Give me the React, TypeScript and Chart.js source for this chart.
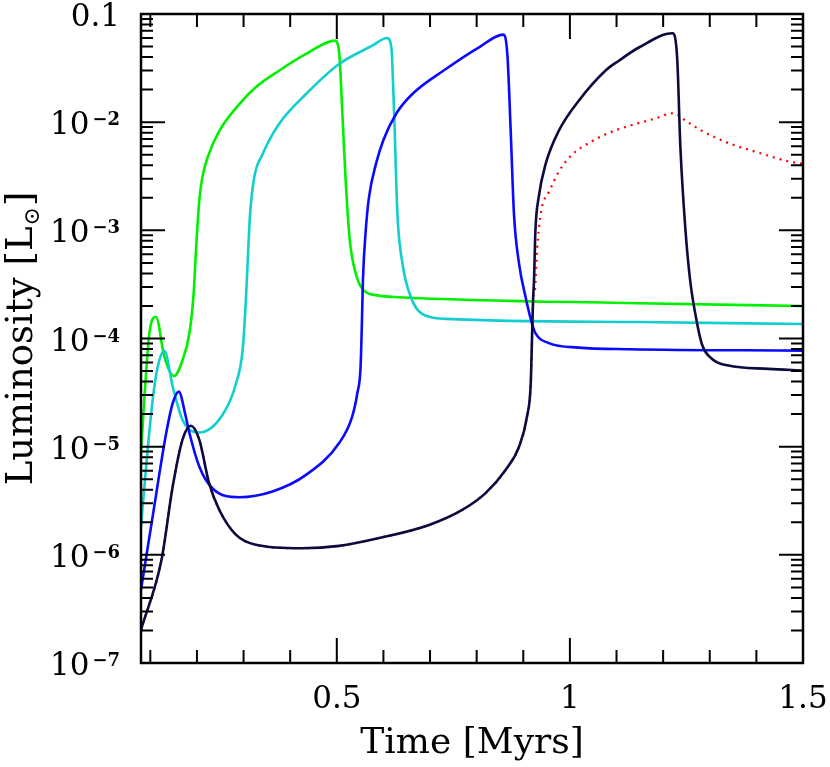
import React, { useEffect, useRef } from 'react';
import { Chart, registerables } from 'chart.js';

Chart.register(...registerables);

const FONT = '"DejaVu Serif", "DejaVu Sans", serif';

// Time [Myrs] and Luminosity [Lsun] for each track
const greenTime = [0.080, 0.087, 0.098, 0.112, 0.130, 0.151, 0.169, 0.184, 0.193, 0.198, 0.205, 0.211, 0.223, 0.248, 0.291, 0.326, 0.376, 0.434, 0.496, 0.505, 0.512, 0.519, 0.528, 0.541, 0.555, 0.591, 0.633, 1.148, 1.500];
const greenLum = [8.7e-6, 2.7e-5, 1.12e-4, 1.59e-4, 6.8e-5, 4.5e-5, 6.3e-5, 1.13e-4, 2.64e-4, 6.6e-4, 1.88e-3, 2.99e-3, 4.74e-3, 8.3e-3, 0.0147, 0.0210, 0.0299, 0.0427, 0.0567, 0.0443, 0.0119, 2.88e-3, 8.0e-4, 3.95e-4, 2.87e-4, 2.49e-4, 2.41e-4, 2.12e-4, 2.0e-4];

const cyanTime = [0.080, 0.091, 0.105, 0.116, 0.130, 0.148, 0.169, 0.205, 0.255, 0.284, 0.298, 0.305, 0.310, 0.314, 0.323, 0.341, 0.376, 0.434, 0.505, 0.576, 0.608, 0.617, 0.623, 0.630, 0.641, 0.659, 0.683, 0.734, 1.148, 1.500];
const cyanLum = [1.83e-6, 6.55e-6, 2.71e-5, 5.5e-5, 7.7e-5, 3.6e-5, 1.77e-5, 1.35e-5, 1.97e-5, 3.86e-5, 7.85e-5, 2.27e-4, 6.6e-4, 1.42e-3, 3.1e-3, 5.08e-3, 9.6e-3, 0.0182, 0.0345, 0.0509, 0.060, 0.0492, 0.0119, 1.42e-3, 4.89e-4, 2.41e-4, 1.69e-4, 1.52e-4, 1.42e-4, 1.36e-4];

const blueTime = [0.080, 0.105, 0.134, 0.148, 0.161, 0.176, 0.184, 0.205, 0.233, 0.291, 0.362, 0.434, 0.505, 0.533, 0.544, 0.551, 0.554, 0.556, 0.562, 0.569, 0.584, 0.600, 0.627, 0.662, 0.734, 0.805, 0.857, 0.866, 0.873, 0.880, 0.891, 0.905, 0.919, 0.926, 0.955, 1.019, 1.126, 1.500];
const blueLum = [4.75e-7, 2.26e-6, 1.33e-5, 2.52e-5, 3.23e-5, 1.9e-5, 1.33e-5, 6.55e-6, 4.13e-6, 3.41e-6, 3.85e-6, 5.48e-6, 1.08e-5, 1.9e-5, 3.12e-5, 5.5e-5, 1.5e-4, 3.43e-4, 9.9e-4, 2.02e-3, 4.11e-3, 6.84e-3, 0.0119, 0.0182, 0.031, 0.0492, 0.0644, 0.0412, 8.3e-3, 1.42e-3, 4.89e-4, 2.41e-4, 1.36e-4, 1.12e-4, 9.06e-5, 8.24e-5, 7.96e-5, 7.73e-5];

const navyTime = [0.080, 0.124, 0.148, 0.169, 0.187, 0.205, 0.226, 0.248, 0.284, 0.326, 0.426, 0.505, 0.591, 0.698, 0.769, 0.819, 0.862, 0.891, 0.908, 0.916, 0.919, 0.921, 0.923, 0.926, 0.933, 0.948, 0.976, 1.019, 1.076, 1.105, 1.148, 1.220, 1.230, 1.237, 1.248, 1.258, 1.269, 1.283, 1.305, 1.340, 1.426, 1.500];
const navyLum = [2.03e-7, 9.0e-7, 4.28e-6, 1.16e-5, 1.56e-5, 1.16e-5, 4.6e-6, 2.6e-6, 1.53e-6, 1.24e-6, 1.15e-6, 1.21e-6, 1.43e-6, 1.89e-6, 2.6e-6, 3.72e-6, 6.1e-6, 1.0e-5, 1.9e-5, 3.86e-5, 1.12e-4, 2.27e-4, 3.43e-4, 9.9e-4, 2.02e-3, 4.11e-3, 8.3e-3, 0.0158, 0.0299, 0.037, 0.049, 0.0664, 0.0398, 5.86e-3, 9.9e-4, 3.43e-4, 1.69e-4, 8.9e-5, 6.47e-5, 5.62e-5, 5.24e-5, 5.05e-5];

const redTime = [0.080, 0.124, 0.148, 0.169, 0.187, 0.205, 0.226, 0.248, 0.284, 0.326, 0.426, 0.505, 0.591, 0.698, 0.769, 0.819, 0.862, 0.891, 0.908, 0.916, 0.919, 0.921, 0.925, 0.930, 0.933, 0.940, 0.955, 0.976, 1.004, 1.041, 1.083, 1.133, 1.180, 1.223, 1.248, 1.283, 1.319, 1.355, 1.390, 1.426, 1.462, 1.500];
const redLum = [2.03e-7, 9.0e-7, 4.28e-6, 1.16e-5, 1.56e-5, 1.16e-5, 4.6e-6, 2.6e-6, 1.53e-6, 1.24e-6, 1.15e-6, 1.21e-6, 1.43e-6, 1.89e-6, 2.6e-6, 3.72e-6, 6.1e-6, 1.0e-5, 1.9e-5, 3.86e-5, 1.12e-4, 2.27e-4, 2.77e-4, 6.98e-4, 9.9e-4, 1.64e-3, 2.26e-3, 3.47e-3, 4.98e-3, 6.43e-3, 7.94e-3, 9.42e-3, 0.0107, 0.0121, 0.01033, 8.33e-3, 7.0e-3, 6.07e-3, 5.46e-3, 4.9e-3, 4.41e-3, 4.11e-3];

// Axis ticks
const xTickValues = [0.1, 0.2, 0.3, 0.4, 0.5, 0.6, 0.7, 0.8, 0.9, 1.0, 1.1, 1.2, 1.3, 1.4, 1.5];
const xMajorValues = [0.5, 1.0, 1.5];
const xLabelValues = [0.5, 1, 1.5];
const yDecadeValues = [1e-7, 1e-6, 1e-5, 1e-4, 1e-3, 1e-2, 1e-1];
const yLabelBase = ['10', '10', '10', '10', '10', '10', '0.1'];
const yLabelSup = ['\u22127', '\u22126', '\u22125', '\u22124', '\u22123', '\u22122', ''];
const yMinorFactors = [2, 3, 4, 5, 6, 7, 8, 9];

const zip = (t: number[], l: number[]) => t.map((x, i) => ({ x, y: l[i] }));

export default function App() {
  const ref = useRef<HTMLCanvasElement | null>(null);

  useEffect(() => {
    const framePlugin = {
      id: 'frameTicks',
      afterDatasetsDraw(chart: any) {
        const { ctx, chartArea: a, scales } = chart;
        const xs = scales.x;
        const ys = scales.y;
        ctx.save();
        ctx.strokeStyle = '#000';
        ctx.lineWidth = 2;
        ctx.lineCap = 'butt';
        ctx.beginPath();
        for (const v of xTickValues) {
          const px = xs.getPixelForValue(v);
          const len = xMajorValues.some((m) => Math.abs(m - v) < 1e-9) ? 25 : 13;
          ctx.moveTo(px, a.bottom);
          ctx.lineTo(px, a.bottom - len);
          ctx.moveTo(px, a.top);
          ctx.lineTo(px, a.top + len);
        }
        yDecadeValues.forEach((d) => {
          const py = ys.getPixelForValue(d);
          ctx.moveTo(a.left, py);
          ctx.lineTo(a.left + 24, py);
          ctx.moveTo(a.right, py);
          ctx.lineTo(a.right - 24, py);
          if (d < 0.1) {
            for (const k of yMinorFactors) {
              const pm = ys.getPixelForValue(d * k);
              ctx.moveTo(a.left, pm);
              ctx.lineTo(a.left + 12, pm);
              ctx.moveTo(a.right, pm);
              ctx.lineTo(a.right - 12, pm);
            }
          }
        });
        ctx.stroke();
        ctx.lineWidth = 2.5;
        ctx.strokeRect(a.left, a.top, a.right - a.left, a.bottom - a.top);

        // y tick labels with superscripts
        ctx.fillStyle = '#000';
        ctx.textBaseline = 'alphabetic';
        ctx.textAlign = 'left';
        const rightEdge = a.left - 21;
        yDecadeValues.forEach((d, i) => {
          const py = ys.getPixelForValue(d);
          const baseFont = `31px ${FONT}`;
          const supFont = `bold 18px ${FONT}`;
          ctx.font = baseFont;
          const wb = ctx.measureText(yLabelBase[i]).width;
          ctx.font = supFont;
          const ws = yLabelSup[i] ? ctx.measureText(yLabelSup[i]).width + 3 : 0;
          const x0 = rightEdge - wb - ws;
          ctx.font = baseFont;
          ctx.fillText(yLabelBase[i], x0, py + 12);
          if (yLabelSup[i]) {
            ctx.font = supFont;
            ctx.fillText(yLabelSup[i], x0 + wb + 3, py + 3);
          }
        });

        // y axis title with subscript sun symbol
        const cy = (a.top + a.bottom) / 2;
        const titleFont = `37px ${FONT}`;
        const subFont = `22px ${FONT}`;
        const p1 = 'Luminosity [L';
        const p2 = '\u2299';
        const p3 = ']';
        ctx.font = titleFont;
        const w1 = ctx.measureText(p1).width;
        const w3 = ctx.measureText(p3).width;
        ctx.font = subFont;
        const w2 = ctx.measureText(p2).width;
        const total = w1 + w2 + w3 + 2;
        ctx.translate(32, cy);
        ctx.rotate(-Math.PI / 2);
        let tx = -total / 2;
        ctx.font = titleFont;
        ctx.fillText(p1, tx, 0);
        tx += w1 + 1;
        ctx.font = subFont;
        ctx.fillText(p2, tx, 7);
        tx += w2 + 1;
        ctx.font = titleFont;
        ctx.fillText(p3, tx, 0);
        ctx.restore();
      },
    };

    const chart = new Chart(ref.current as HTMLCanvasElement, {
      type: 'line',
      data: {
        datasets: [
          { label: 'navy', data: zip(navyTime, navyLum), borderColor: '#0b0b40', order: 0 },
          { label: 'blue', data: zip(blueTime, blueLum), borderColor: '#0a0aff', order: 1 },
          { label: 'cyan', data: zip(cyanTime, cyanLum), borderColor: '#12cece', order: 2 },
          { label: 'green', data: zip(greenTime, greenLum), borderColor: '#00f000', order: 3 },
          { label: 'red', data: zip(redTime, redLum), borderColor: '#ff0000', borderDash: [2, 5], borderWidth: 2.2, order: 4 },
        ],
      } as any,
      options: {
        animation: false,
        responsive: false,
        parsing: false as any,
        layout: { padding: { top: 14, right: 27, left: 0, bottom: 0 } },
        plugins: { legend: { display: false }, tooltip: { enabled: false } },
        elements: {
          point: { radius: 0 },
          line: { borderWidth: 2.6, tension: 0, cubicInterpolationMode: 'monotone' },
        },
        scales: {
          x: {
            type: 'linear',
            min: 0.08,
            max: 1.5,
            grid: { display: false, drawTicks: false },
            border: { display: false },
            afterBuildTicks: (s: any) => {
              s.ticks = xLabelValues.map((v) => ({ value: v }));
            },
            afterFit: (s: any) => {
              s.height = 104;
              s.paddingLeft = 0;
              s.paddingRight = 0;
            },
            ticks: {
              font: { family: FONT, size: 31 },
              color: '#000',
              padding: 18,
              maxRotation: 0,
              autoSkip: false,
              callback: (v: any) => String(v),
            },
            title: {
              display: true,
              text: 'Time [Myrs]',
              font: { family: FONT, size: 36 },
              color: '#000',
              padding: { top: 0, bottom: 2 },
            },
          },
          y: {
            type: 'logarithmic',
            min: 1e-7,
            max: 0.1,
            grid: { display: false, drawTicks: false },
            border: { display: false },
            ticks: { display: false },
            afterFit: (s: any) => {
              s.width = 141;
              s.paddingTop = 0;
              s.paddingBottom = 0;
            },
          },
        },
      } as any,
      plugins: [framePlugin],
    });
    return () => chart.destroy();
  }, []);

  return (
    <div style={{ position: 'absolute', left: 0, top: 0, width: 830, height: 767 }}>
      <canvas ref={ref} width={830} height={767} style={{ display: 'block' }} />
    </div>
  );
}
